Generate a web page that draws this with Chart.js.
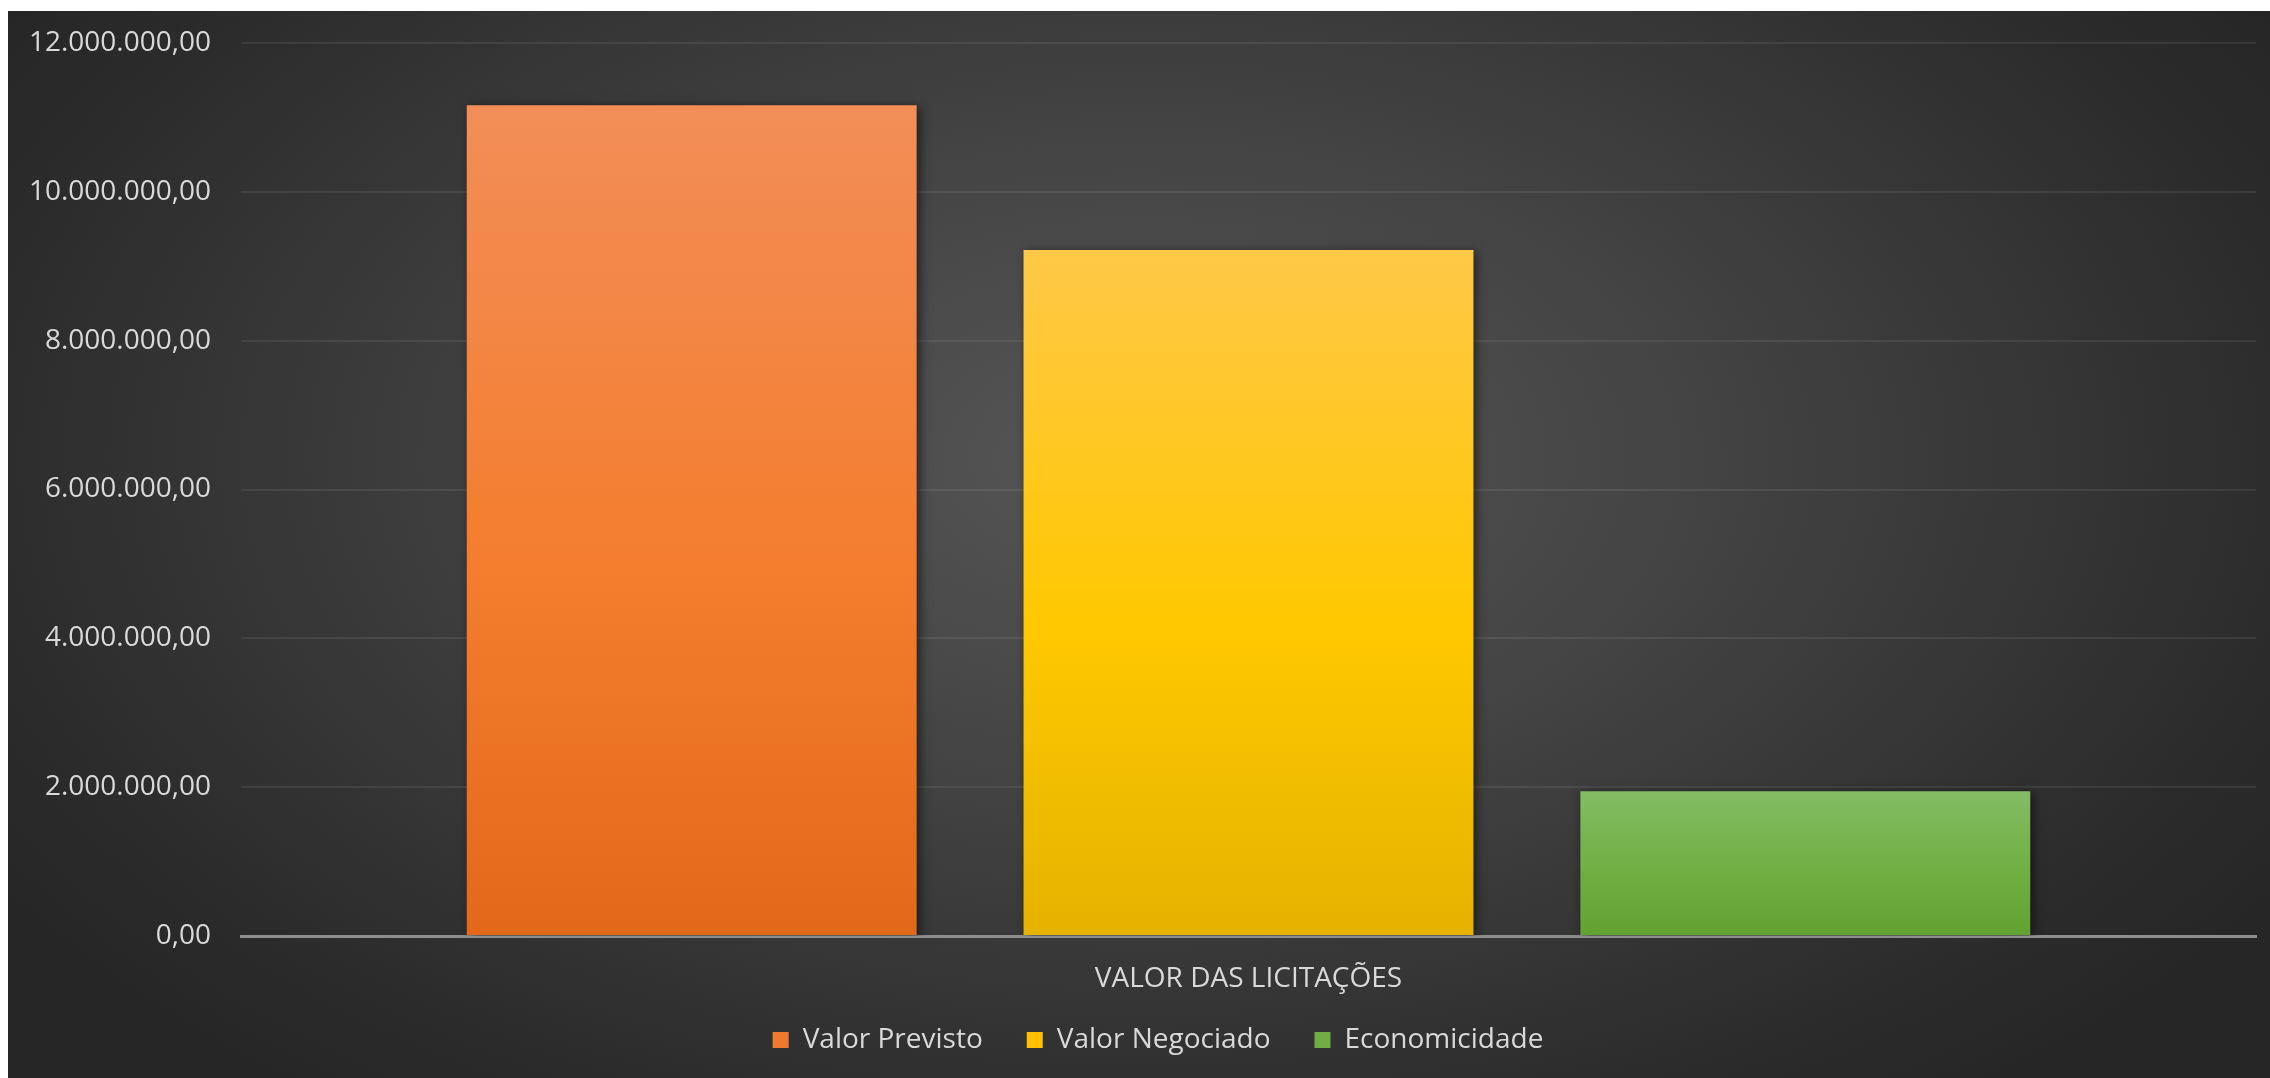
<!DOCTYPE html>
<html lang="pt-BR">
<head>
<meta charset="utf-8">
<title>Valor das Licitações</title>
<script src="https://cdn.jsdelivr.net/npm/chart.js@4.4.1/dist/chart.umd.min.js"></script>
<style>
  html, body { margin: 0; padding: 0; background: #ffffff; }
  body { width: 2270px; height: 1078px; position: relative; overflow: hidden; }
  .chartBox {
    position: absolute; left: 8px; top: 11px; width: 2262px; height: 1067px;
    background: radial-gradient(ellipse 60% 75% at 50% 42%, #565656 0%, #444444 40%, #2c2c2c 85%, #262626 100%);
  }
</style>
</head>
<body>
<div class="chartBox"><canvas id="licitacoesChart"></canvas></div>
<script>
// dados
const categories = ['VALOR DAS LICITAÇÕES'];
const seriesNames = ['Valor Previsto', 'Valor Negociado', 'Economicidade'];
const valorPrevisto = [11165000];
const valorNegociado = [9220000];
const economicidade = [1945000];

const yMax = 12000000;
const yStep = 2000000;

// cores (topo, meio, base) de cada barra
const barColors = [
    ['#F28E58', '#F47D2E', '#E3691A'],
    ['#FFC847', '#FFC800', '#E5B300'],
    ['#83BC64', '#70B043', '#61A233']
];
const solidColors = ['#EE7A30', '#FFC000', '#70AD47'];

function fmtBR(v) {
    const parts = Number(v).toFixed(2).split('.');
    return parts[0].replace(/\B(?=(\d{3})+(?!\d))/g, '.') + ',' + parts[1];
}

function barFill(i) {
    return function (ctx) {
        const chart = ctx.chart;
        if (ctx.type !== 'data' || !chart.chartArea || !chart.scales.y) {
            return solidColors[i];
        }
        const top = chart.scales.y.getPixelForValue(ctx.raw);
        const bottom = chart.scales.y.getPixelForValue(0);
        if (!isFinite(top) || bottom - top < 1) return solidColors[i];
        const g = chart.ctx.createLinearGradient(0, top, 0, bottom);
        g.addColorStop(0, barColors[i][0]);
        g.addColorStop(0.55, barColors[i][1]);
        g.addColorStop(1, barColors[i][2]);
        return g;
    };
}

const barShadow = {
    id: 'barShadow',
    beforeDatasetsDraw(chart) {
        const c = chart.ctx;
        c.save();
        c.shadowColor = 'rgba(0, 0, 0, 0.55)';
        c.shadowBlur = 10;
        c.shadowOffsetX = 3;
        c.shadowOffsetY = 2;
    },
    afterDatasetsDraw(chart) {
        chart.ctx.restore();
    }
};

// legenda com altura fixa, um pouco deslocada para a direita
const legendPlace = {
    id: 'legendPlace',
    beforeInit(chart) {
        if (!chart.legend) return;
        const origFit = chart.legend.fit;
        chart.legend.fit = function () {
            origFit.call(this);
            this.height = 96;
        };
    },
    afterLayout(chart) {
        if (!chart.legend) return;
        chart.legend.left += 26;
        chart.legend.right += 26;
    }
};

const seriesValues = [valorPrevisto, valorNegociado, economicidade];

const ctx = document.getElementById('licitacoesChart').getContext('2d');
new Chart(ctx, {
    type: 'bar',
    data: {
        labels: categories,
        datasets: seriesNames.map(function (name, i) {
            return {
                label: name,
                data: seriesValues[i],
                backgroundColor: barFill(i),
                borderWidth: 0,
                categoryPercentage: 0.829,
                barPercentage: 0.808
            };
        })
    },
    options: {
        responsive: true,
        maintainAspectRatio: false,
        devicePixelRatio: 1,
        animation: false,
        layout: {
            padding: { top: 32, right: 14, left: 0, bottom: 0 }
        },
        plugins: {
            legend: {
                position: 'bottom',
                labels: {
                    color: '#d9d9d9',
                    font: { family: 'Open Sans', size: 28 },
                    boxWidth: 16,
                    boxHeight: 16,
                    padding: 44,
                    generateLabels: function (chart) {
                        return chart.data.datasets.map(function (ds, i) {
                            return {
                                text: ds.label,
                                fillStyle: solidColors[i],
                                strokeStyle: solidColors[i],
                                lineWidth: 0,
                                fontColor: '#d9d9d9',
                                datasetIndex: i
                            };
                        });
                    }
                }
            },
            tooltip: {
                callbacks: {
                    label: function (item) {
                        return item.dataset.label + ': ' + fmtBR(item.raw);
                    }
                }
            }
        },
        scales: {
            x: {
                z: 1,
                afterFit: function (scale) { scale.height = 46; },
                grid: { display: false, drawTicks: false },
                border: { display: true, color: '#8e8e8e', width: 3 },
                ticks: { display: false },
                title: {
                    display: true,
                    text: categories[0],
                    color: '#d9d9d9',
                    font: { family: 'Open Sans', size: 28 },
                    padding: { top: 0, bottom: -14 }
                }
            },
            y: {
                min: 0,
                max: yMax,
                afterFit: function (scale) {
                    scale.width = 233;
                    scale.paddingTop = 20;
                    scale.paddingBottom = 0;
                },
                grid: {
                    color: 'rgba(255, 255, 255, 0.08)',
                    lineWidth: 2,
                    drawTicks: false
                },
                border: { display: false },
                ticks: {
                    stepSize: yStep,
                    color: '#d9d9d9',
                    font: { family: 'Open Sans', size: 28 },
                    padding: 30,
                    callback: function (value) { return fmtBR(value); }
                }
            }
        }
    },
    plugins: [barShadow, legendPlace]
});
</script>
</body>
</html>
